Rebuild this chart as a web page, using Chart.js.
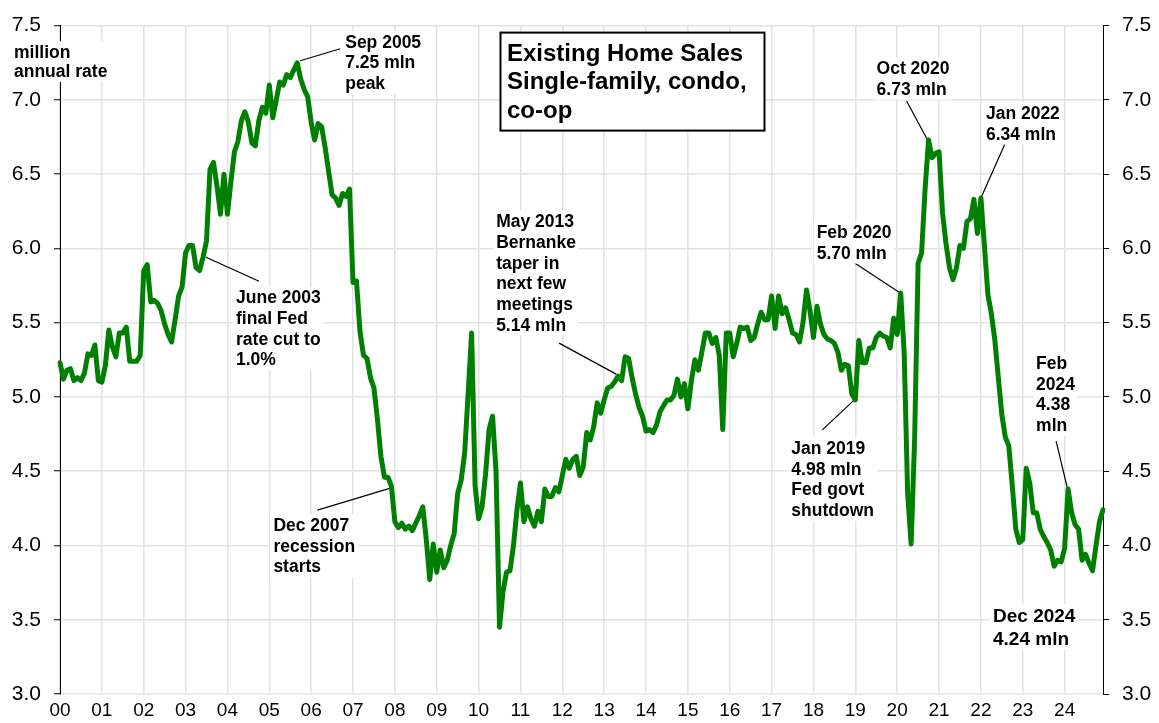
<!DOCTYPE html>
<html>
<head>
<meta charset="utf-8">
<title>Existing Home Sales</title>
<script src="https://cdn.jsdelivr.net/npm/chart.js@4.4.1/dist/chart.umd.min.js"></script>
<style>
  html, body { margin: 0; padding: 0; background: #fff; }
  #wrap { width: 1159px; height: 723px; }
</style>
</head>
<body>
<div id="wrap"><canvas id="salesChart" width="1159" height="723"></canvas></div>
<script>
// Existing home sales, million units at annual rate, monthly Jan 2000 - Dec 2024

const yearTicks = ['00', '01', '02', '03', '04', '05', '06', '07', '08', '09', '10', '11', '12',
  '13', '14', '15', '16', '17', '18', '19', '20', '21', '22', '23', '24'];

const sales00_04 = [
  5.23, 5.12, 5.18, 5.19, 5.11, 5.13, 5.11, 5.16, 5.29, 5.28, 5.35, 5.11,
  5.10, 5.21, 5.45, 5.34, 5.27, 5.43, 5.43, 5.47, 5.24, 5.24, 5.24, 5.28,
  5.85, 5.89, 5.64, 5.65, 5.63, 5.58, 5.49, 5.42, 5.37, 5.52, 5.68, 5.74,
  5.97, 6.02, 6.02, 5.87, 5.85, 5.94, 6.05, 6.53, 6.58, 6.42, 6.23, 6.50,
  6.23, 6.45, 6.65, 6.72, 6.86, 6.92, 6.85, 6.71, 6.69, 6.86, 6.95, 6.91,
];

const sales05_09 = [
  7.10, 6.88, 7.00, 7.12, 7.10, 7.17, 7.15, 7.20, 7.25, 7.14, 7.07, 7.02,
  6.85, 6.73, 6.84, 6.82, 6.68, 6.52, 6.36, 6.34, 6.29, 6.37, 6.35, 6.40,
  5.77, 5.78, 5.44, 5.28, 5.26, 5.13, 5.06, 4.85, 4.60, 4.46, 4.46, 4.40,
  4.16, 4.12, 4.15, 4.11, 4.13, 4.10, 4.15, 4.20, 4.26, 4.04, 3.77, 4.01,
  3.82, 3.97, 3.85, 3.90, 4.00, 4.08, 4.35, 4.44, 4.62, 5.02, 5.43, 4.40,
];

const sales10_14 = [
  4.18, 4.26, 4.48, 4.78, 4.87, 4.50, 3.45, 3.69, 3.82, 3.83, 4.00, 4.24,
  4.42, 4.16, 4.26, 4.18, 4.13, 4.23, 4.16, 4.38, 4.33, 4.33, 4.39, 4.36,
  4.47, 4.58, 4.52, 4.58, 4.60, 4.47, 4.53, 4.76, 4.71, 4.80, 4.96, 4.89,
  4.98, 5.06, 5.07, 5.10, 5.14, 5.11, 5.27, 5.26, 5.13, 5.02, 4.93, 4.87,
  4.77, 4.78, 4.76, 4.81, 4.90, 4.94, 4.98, 4.98, 5.01, 5.12, 5.00, 5.09,
];

const sales15_19 = [
  4.92, 5.11, 5.25, 5.18, 5.30, 5.43, 5.43, 5.36, 5.40, 5.28, 4.78, 5.43,
  5.43, 5.27, 5.36, 5.47, 5.46, 5.47, 5.38, 5.40, 5.49, 5.57, 5.52, 5.52,
  5.68, 5.46, 5.68, 5.56, 5.60, 5.52, 5.43, 5.42, 5.37, 5.50, 5.72, 5.58,
  5.40, 5.61, 5.49, 5.42, 5.39, 5.38, 5.36, 5.30, 5.18, 5.22, 5.21, 5.02,
  4.98, 5.38, 5.23, 5.23, 5.33, 5.33, 5.40, 5.43, 5.41, 5.40, 5.33, 5.53,
];

const sales20_24 = [
  5.42, 5.70, 5.30, 4.35, 4.01, 4.72, 5.90, 5.97, 6.40, 6.73, 6.61, 6.64,
  6.65, 6.24, 6.03, 5.87, 5.79, 5.87, 6.02, 6.00, 6.18, 6.20, 6.33, 6.10,
  6.34, 6.02, 5.69, 5.56, 5.38, 5.13, 4.88, 4.73, 4.67, 4.40, 4.11, 4.02,
  4.04, 4.52, 4.42, 4.22, 4.22, 4.11, 4.06, 4.02, 3.97, 3.86, 3.90, 3.89,
  3.98, 4.38, 4.22, 4.14, 4.11, 3.90, 3.94, 3.88, 3.83, 4.00, 4.16, 4.24,
];

const sales = [...sales00_04, ...sales05_09, ...sales10_14, ...sales15_19, ...sales20_24];

// one category per month, year label shown on January only
const monthLabels = [];
yearTicks.forEach((yr) => {
  for (let m = 1; m <= 12; m++) monthLabels.push(yr + '-' + m);
});

const FONT = "'Liberation Sans', Arial, sans-serif";
const GRID = '#e2e2e2';

// callouts: anchored to a month of the series, offsets in px from that point
const notes = [
  { year: 2005, month: 9, lines: ['Sep 2005', '7.25 mln', 'peak'], text: [48, -15], from: [3, -2], to: [43, -14] },
  { year: 2003, month: 6, lines: ['June 2003', 'final Fed', 'rate cut to', '1.0%'], text: [33, 46], from: [3, 0], to: [56, 24] },
  { year: 2007, month: 12, lines: ['Dec 2007', 'recession', 'starts'], text: [-118, 45], from: [-1, 2], to: [-74, 24] },
  { year: 2013, month: 5, lines: ['May 2013', 'Bernanke', 'taper in', 'next few', 'meetings', '5.14 mln'], text: [-122, -149], from: [-2, -2], to: [-59, -33] },
  { year: 2019, month: 1, lines: ['Jan 2019', '4.98 mln', 'Fed govt', 'shutdown'], text: [-64, 54], from: [-1, 0], to: [-33, 30] },
  { year: 2020, month: 2, lines: ['Feb 2020', '5.70 mln'], text: [-84, -55], from: [-2, -1], to: [-46, -30] },
  { year: 2020, month: 10, lines: ['Oct 2020', '6.73 mln'], text: [-52, -66], from: [-1, 0], to: [-22, -39] },
  { year: 2022, month: 1, lines: ['Jan 2022', '6.34 mln'], text: [5, -79], from: [0, 0], to: [24, -54] },
  { year: 2024, month: 2, lines: ['Feb', '2024', '4.38', 'mln'], text: [-32, -120], from: [-1, -2], to: [-12, -48] },
  { year: 2024, month: 12, lines: ['Dec 2024', '4.24 mln'], text: [-110, 112], size: 19, lineH: 23 },
];

function drawBlock(ctx, lines, left, baseline, size, lineH, boxed) {
  ctx.font = 'bold ' + size + 'px ' + FONT;
  const cap = size * 0.716;
  const w = Math.max(...lines.map((l) => ctx.measureText(l).width));
  if (boxed) {
    ctx.fillStyle = '#fff';
    ctx.fillRect(left - 3, baseline - cap - 4, w + 6, (lines.length - 1) * lineH + cap + 9);
  }
  ctx.fillStyle = '#000';
  ctx.textAlign = 'left';
  ctx.textBaseline = 'alphabetic';
  lines.forEach((l, i) => ctx.fillText(l, left, baseline + i * lineH));
}

const notesPlugin = {
  id: 'notes',
  beforeDatasetsDraw(chart) {
    const { ctx, chartArea, scales } = chart;
    ctx.save();

    // unit label top left, sits over the axis line
    drawBlock(ctx, ['million', 'annual rate'], chartArea.left - 46, chartArea.top + 32, 17.5, 19.3, true);

    // title box
    const bx = chartArea.left + 440.5;
    const by = chartArea.top + 7;
    ctx.fillStyle = '#fff';
    ctx.fillRect(bx, by, 264, 98);
    ctx.strokeStyle = '#000';
    ctx.lineWidth = 2;
    ctx.strokeRect(bx, by, 264, 98);
    drawBlock(ctx, ['Existing Home Sales', 'Single-family, condo,', 'co-op'], bx + 6.5, by + 28, 24, 28.6, false);

    notes.forEach((n) => {
      const idx = (n.year - 2000) * 12 + (n.month - 1);
      const px = scales.x.getPixelForValue(idx);
      const py = scales.y.getPixelForValue(sales[idx]);
      if (n.from) {
        ctx.strokeStyle = '#000';
        ctx.lineWidth = 1.2;
        ctx.beginPath();
        ctx.moveTo(px + n.from[0], py + n.from[1]);
        ctx.lineTo(px + n.to[0], py + n.to[1]);
        ctx.stroke();
      }
      drawBlock(ctx, n.lines, px + n.text[0], py + n.text[1], n.size || 17.5, n.lineH || 20.7, true);
    });

    ctx.restore();
  },
};

const yTicks = {
  stepSize: 0.5,
  callback: (v) => v.toFixed(1),
  font: { family: FONT, size: 21 },
  color: '#000',
  padding: 13,
};

new Chart(document.getElementById('salesChart'), {
  type: 'line',
  data: {
    labels: monthLabels,
    datasets: [
      {
        label: 'Existing home sales',
        data: sales,
        borderColor: '#008000',
        borderWidth: 5,
        borderJoinStyle: 'round',
        borderCapStyle: 'round',
        pointRadius: 0,
        tension: 0,
        fill: false,
        yAxisID: 'y',
      },
    ],
  },
  options: {
    responsive: false,
    animation: false,
    layout: { padding: { top: 17, left: 0, right: 0, bottom: 0 } },
    plugins: {
      legend: { display: false },
      tooltip: { enabled: false },
    },
    scales: {
      x: {
        type: 'category',
        offset: false,
        grid: {
          color: (c) => (c.index % 12 === 0 ? GRID : 'rgba(0,0,0,0)'),
          lineWidth: 1.5,
          drawTicks: false,
        },
        border: { display: false },
        ticks: {
          autoSkip: false,
          maxRotation: 0,
          minRotation: 0,
          padding: 5,
          font: { family: FONT, size: 19 },
          color: '#000',
          callback: (v, i) => (i % 12 === 0 ? yearTicks[i / 12] : ''),
        },
        afterFit: (s) => { s.height = 29; },
      },
      y: {
        position: 'left',
        min: 3,
        max: 7.5,
        ticks: yTicks,
        grid: { color: GRID, lineWidth: 1.5, tickColor: '#000', tickLength: 6, tickWidth: 1 },
        border: { color: '#000', width: 1 },
        afterFit: (s) => { s.width = 60; },
      },
      y2: {
        position: 'right',
        min: 3,
        max: 7.5,
        ticks: yTicks,
        grid: { drawOnChartArea: false, tickColor: '#000', tickLength: 6, tickWidth: 1 },
        border: { color: '#000', width: 1 },
        afterFit: (s) => { s.width = 56; },
      },
    },
  },
  plugins: [notesPlugin],
});
</script>
</body>
</html>
